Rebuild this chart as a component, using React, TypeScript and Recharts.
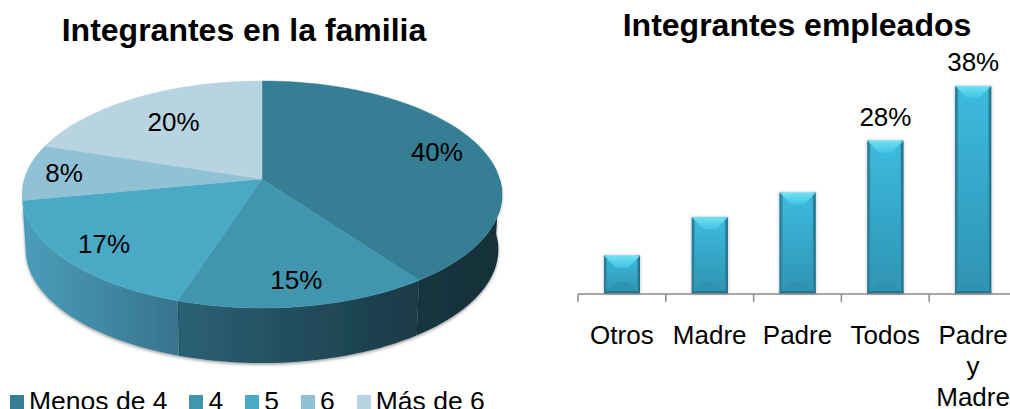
import React from "react";
import { PieChart, Pie, Legend, BarChart, Bar, XAxis, YAxis, LabelList } from "recharts";

const pieNames = ["Menos de 4", "4", "5", "6", "Más de 6"];
const pieValues = [40, 15, 17, 8, 20];
const pieColors = ["#357e94", "#4195ae", "#4aa9c5", "#91c1d4", "#b9d4e1"];
const barCategories = ["Otros", "Madre", "Padre", "Todos", "Padre y Madre"];
const barValues = [7, 14, 18.5, 28, 38];
const barLabels = ["", "", "", "28%", "38%"];

const pieData = pieNames.map((name, i) => ({ name, value: pieValues[i], fill: pieColors[i] }));
const barData = barCategories.map((name, i) => ({ name, value: barValues[i], label: barLabels[i] }));

const FONT = '"Liberation Sans", Arial, sans-serif';

// Tilted-disc projection of the library's pie angles
const PCX = 262, PCY = 179, SX = 237.7, SY = 111.4, K = -0.1366, DEPTH = 55;
const labelFractions = [0.8, 0.82, 0.82, 0.84, 0.68];

function project(deg: number, r = 1) {
  const t = ((90 - deg) * Math.PI) / 180;
  const u = Math.sin(t) * r, v = -Math.cos(t) * r;
  const d = 1 + K * v;
  return { x: PCX + (SX * u) / d, y: PCY + (SY * v) / d };
}
function rimPoints(a0: number, a1: number, dy = 0, shrink = 1) {
  const out: string[] = [];
  const n = Math.max(2, Math.ceil(Math.abs(a1 - a0) / 2));
  for (let i = 0; i <= n; i++) {
    const p = project(a0 + ((a1 - a0) * i) / n);
    out.push(`${(PCX + (p.x - PCX) * shrink).toFixed(2)},${(p.y + dy).toFixed(2)}`);
  }
  return out;
}
const wallGradients = [
  ["#18363f", "#152f38"],
  ["#2b6175", "#1a3a46"],
  ["#4a9ebb", "#37748c"],
];

function PieSlice(props: any) {
  const { startAngle, endAngle, fill } = props;
  const top = rimPoints(startAngle, endAngle);
  const i = pieColors.indexOf(fill);
  let wall: React.ReactNode = null;
  // visible wall: the front half of the rim (screen angle 0 to -180)
  const from = Math.min(startAngle, 0);
  const to = Math.max(endAngle, -180);
  if (from > to && i >= 0 && i < 3) {
    const upper = rimPoints(from, to);
    const lower = rimPoints(to, from, DEPTH, 0.985);
    wall = <polygon points={[...upper, ...lower].join(" ")} fill={`url(#wall${i})`} filter="url(#pieShadow)" />;
  }
  return (
    <g>
      {wall}
      <polygon points={[`${PCX},${PCY}`, ...top].join(" ")} fill={fill} stroke={fill} strokeWidth={0.5} />
    </g>
  );
}

function PieLabel(props: any) {
  const { midAngle, index, value } = props;
  const p = project(midAngle, labelFractions[index]);
  return (
    <text x={p.x} y={p.y} textAnchor="middle" dominantBaseline="central" fontSize={26} fontFamily={FONT} fill="#000">
      {value}%
    </text>
  );
}

function PieLegend({ payload }: any) {
  return (
    <div style={{ display: "flex", fontFamily: FONT, fontSize: 26.5, lineHeight: "30px", color: "#000", whiteSpace: "nowrap" }}>
      {(payload || []).map((e: any) => (
        <div key={e.value} style={{ display: "flex", alignItems: "center", marginRight: 22 }}>
          <span style={{ width: 14, height: 14, background: e.color, marginRight: 5, display: "inline-block", position: "relative", top: 1 }} />
          <span>{e.value}</span>
        </div>
      ))}
    </div>
  );
}

const BAND = 87.8;
function BarTick(props: any) {
  const { x, payload, index } = props;
  const words = payload.value === "Padre y Madre" ? ["Padre", "y", "Madre"] : [payload.value];
  return (
    <g>
      <line x1={x - BAND / 2} x2={x - BAND / 2} y1={294} y2={302} stroke="#8a8a8a" strokeWidth={1.5} />
      {index === 4 && <line x1={x + BAND / 2} x2={x + BAND / 2} y1={294} y2={302} stroke="#8a8a8a" strokeWidth={1.5} />}
      <text textAnchor="middle" fontSize={26} fontFamily={FONT} fill="#000">
        {words.map((w: string, i: number) => (
          <tspan key={w} x={x} y={344 + i * 31}>{w}</tspan>
        ))}
      </text>
    </g>
  );
}

function BevelBar(props: any) {
  const { x, y, width: w, height: h } = props;
  const b = 12, sb = 3;
  return (
    <g filter="url(#barShadow)">
      <rect x={x} y={y} width={w} height={h} fill="url(#barBody)" />
      <polygon points={`${x + b},${y + h - b} ${x + w - b},${y + h - b} ${x + w - 3},${y + h - 3} ${x + 3},${y + h - 3}`} fill="#2f93b0" />
      <rect x={x} y={y} width={sb} height={h} fill="url(#barSideL)" />
      <rect x={x + w - sb} y={y} width={sb} height={h} fill="url(#barSideR)" />
      <rect x={x} y={y + h - 3} width={w} height={3} fill="#27748c" />
      <polygon points={`${x},${y} ${x + w},${y} ${x + w - b},${y + b} ${x + b},${y + b}`} fill="url(#barTop)" />
    </g>
  );
}

function BarValueLabel(props: any) {
  const { x, y, width, value } = props;
  if (!value) return null;
  return (
    <text x={x + width / 2} y={y - 24} textAnchor="middle" dominantBaseline="central" fontSize={26} fontFamily={FONT} fill="#000">
      {value}
    </text>
  );
}

const titleStyle: React.CSSProperties = {
  position: "absolute",
  fontFamily: FONT,
  fontWeight: 700,
  fontSize: 32,
  lineHeight: "36px",
  color: "#000",
  whiteSpace: "nowrap",
  transform: "translateX(-50%)",
};

export default function App() {
  return (
    <div style={{ position: "absolute", left: 0, top: 0, width: 1010, height: 409, overflow: "hidden", background: "#fff" }}>
      <div style={{ ...titleStyle, left: 244, top: 12 }}>Integrantes en la familia</div>
      <div style={{ ...titleStyle, left: 797, top: 7 }}>Integrantes empleados</div>

      <div style={{ position: "absolute", left: 0, top: 0 }}>
        <PieChart width={530} height={420} margin={{ top: 0, right: 0, bottom: 0, left: 0 }}>
          <defs>
            {wallGradients.map((g, i) => (
              <linearGradient key={i} id={`wall${i}`} x1="0" y1="0" x2="1" y2="0">
                <stop offset="0%" stopColor={g[0]} />
                <stop offset="100%" stopColor={g[1]} />
              </linearGradient>
            ))}
            <filter id="pieShadow" x="-5%" y="-10%" width="110%" height="125%">
              <feDropShadow dx="0" dy="1.5" stdDeviation="1.8" floodColor="#000" floodOpacity="0.4" />
            </filter>
          </defs>
          <Pie
            data={pieData}
            dataKey="value"
            nameKey="name"
            cx={PCX}
            cy={PCY}
            outerRadius={100}
            startAngle={90}
            endAngle={-270}
            paddingAngle={0}
            stroke="none"
            isAnimationActive={false}
            shape={PieSlice}
            label={PieLabel}
            labelLine={false}
          />
          <Legend
            content={PieLegend}
            itemSorter={null}
            layout="horizontal"
            verticalAlign="top"
            align="left"
            wrapperStyle={{ position: "absolute", left: 10, top: 386, width: 520 }}
          />
        </PieChart>
      </div>

      <div style={{ position: "absolute", left: 560, top: 0 }}>
        <BarChart width={470} height={409} data={barData} margin={{ top: 75, right: 13, bottom: 0, left: 18 }}>
          <defs>
            <linearGradient id="barBody" x1="0" y1="0" x2="0" y2="1">
              <stop offset="0%" stopColor="#3dbbdf" />
              <stop offset="100%" stopColor="#2f93b1" />
            </linearGradient>
            <linearGradient id="barTop" x1="0" y1="0" x2="0" y2="1">
              <stop offset="0%" stopColor="#6fe2f2" />
              <stop offset="100%" stopColor="#42c2e3" />
            </linearGradient>
            <linearGradient id="barSideL" x1="0" y1="0" x2="1" y2="0">
              <stop offset="0%" stopColor="#236f88" />
              <stop offset="100%" stopColor="#3297b6" />
            </linearGradient>
            <linearGradient id="barSideR" x1="1" y1="0" x2="0" y2="0">
              <stop offset="0%" stopColor="#1f6379" />
              <stop offset="100%" stopColor="#3297b6" />
            </linearGradient>
            <filter id="barShadow" x="-15%" y="-5%" width="130%" height="110%">
              <feDropShadow dx="0" dy="0" stdDeviation="1.5" floodColor="#000" floodOpacity="0.3" />
            </filter>
          </defs>
          <XAxis
            dataKey="name"
            interval={0}
            tickLine={false}
            tick={BarTick}
            height={115}
            axisLine={{ stroke: "#8a8a8a", strokeWidth: 1.5 }}
          />
          <YAxis hide domain={[0, 40]} />
          <Bar dataKey="value" barSize={36} isAnimationActive={false} shape={BevelBar}>
            <LabelList dataKey="label" content={BarValueLabel} />
          </Bar>
        </BarChart>
      </div>
    </div>
  );
}
